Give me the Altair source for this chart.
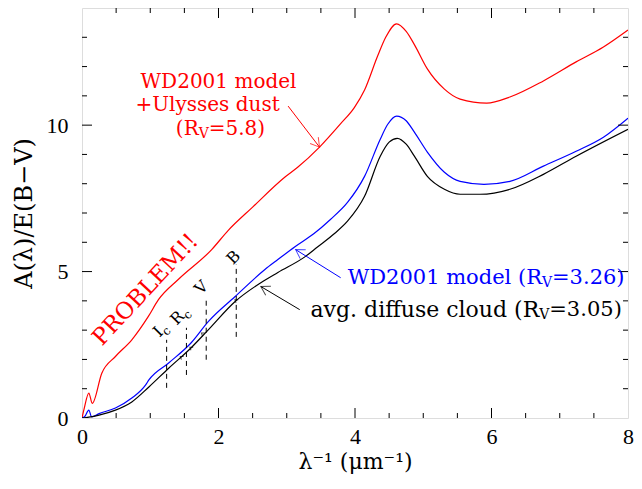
import altair as alt
import pandas as pd

# ---------------- data ----------------
red_x = [0.0, 0.03, 0.10, 0.15, 0.29, 0.49, 0.73, 0.97, 1.12, 1.41, 1.90, 2.14, 2.50, 2.97, 3.16, 3.48, 3.79, 3.99,
         4.14, 4.33, 4.45, 4.61, 4.75, 4.87, 5.06, 5.31, 5.54, 5.93, 6.27, 6.76, 7.24, 7.64, 8.0]
red_y = [0.0, 0.30, 0.85, 0.50, 1.53, 2.10, 2.67, 3.46, 4.04, 4.73, 5.75, 6.40, 7.20, 8.22, 8.56, 9.25, 10.05, 10.60,
         11.20, 12.35, 13.00, 13.46, 13.20, 12.75, 11.92, 11.23, 10.89, 10.75, 10.96, 11.51, 12.16, 12.67, 13.25]

blue_x = [0.0, 0.04, 0.10, 0.14, 0.25, 0.49, 0.73, 0.93, 0.98, 1.27, 1.60, 1.85, 2.24, 2.68, 2.87, 3.12, 3.40, 3.64,
          3.89, 4.14, 4.37, 4.48, 4.61, 4.75, 4.87, 5.06, 5.31, 5.54, 5.89, 6.27, 6.76, 7.24, 7.64, 8.0]
blue_y = [0.0, 0.05, 0.27, 0.04, 0.15, 0.34, 0.68, 1.12, 1.30, 1.88, 2.57, 3.29, 4.14, 5.07, 5.41, 5.85, 6.30, 6.78,
          7.36, 8.25, 9.52, 10.03, 10.31, 10.15, 9.76, 9.08, 8.39, 8.08, 7.98, 8.08, 8.60, 9.11, 9.59, 10.24]

black_x = [0.0, 0.10, 0.25, 0.49, 0.73, 0.98, 1.27, 1.60, 1.85, 2.24, 2.62, 2.87, 3.27, 3.45, 3.70, 3.89, 4.14, 4.37,
           4.50, 4.62, 4.75, 4.87, 5.06, 5.31, 5.54, 5.83, 6.27, 6.76, 7.24, 8.0]
black_y = [0.0, 0.03, 0.10, 0.27, 0.55, 1.06, 1.70, 2.40, 3.01, 3.97, 4.62, 4.97, 5.51, 5.84, 6.30, 6.72, 7.57, 8.94,
           9.42, 9.55, 9.35, 8.94, 8.25, 7.81, 7.64, 7.64, 7.81, 8.32, 8.94, 9.86]

series_names = ["red", "blue", "black"]
series_colors = ["#ff0000", "#0000ff", "#000000"]

# photometric band markers (dashed lines)
band_x = [1.24, 1.53, 1.82, 2.26]
band_y1 = [1.03, 1.47, 1.99, 2.77]
band_y2 = [2.67, 3.08, 4.14, 5.24]

# small arrow markers on the black curve
mark_x = [1.44, 1.58, 1.75, 2.24]
mark_y = [2.10, 2.42, 2.90, 4.04]

# axis ticks
x_labels = [0, 2, 4, 6, 8]
x_major_in = [2, 4, 6]
x_minor = [0.5, 1, 1.5, 2.5, 3, 3.5, 4.5, 5, 5.5, 6.5, 7, 7.5]
y_labels = [0, 5, 10]
y_major_in = [5, 10]
y_minor = [1, 2, 3, 4, 6, 7, 8, 9, 11, 12, 13]

# arrows: start (label end) -> tip
arrow_x1 = [3.02, 3.79, 3.19]
arrow_y1 = [10.65, 4.79, 3.70]
arrow_x2 = [3.48, 3.13, 2.62]
arrow_y2 = [9.25, 5.75, 4.49]
arrow_angle = [52, 212, 210]

W, H = 546, 410
FONT = "DejaVu Serif"
MAJOR, MINOR = 10, 5

xscale = alt.Scale(domain=[0, 8], nice=False, zero=False)
yscale = alt.Scale(domain=[0, 14], nice=False, zero=False)
cscale = alt.Scale(domain=series_names, range=series_colors)

def X(field="x", axis=None):
    return alt.X(f"{field}:Q", scale=xscale, axis=axis)

def Y(field="y", axis=None):
    return alt.Y(f"{field}:Q", scale=yscale, axis=axis)

# ---------------- axes (labels + titles only) ----------------
anchor = pd.DataFrame({"x": [0.0], "y": [0.0]})
main_axes = alt.Chart(anchor).mark_point(opacity=0).encode(
    x=X(axis=alt.Axis(orient="bottom", values=x_labels, tickSize=0, domain=False, grid=False,
                      labelFont="Liberation Serif", labelFontSize=22, labelColor="black", labelPadding=8,
                      labelFlush=False, format="d",
                      title="λ⁻¹ (μm⁻¹)", titleFont=FONT, titleFontSize=22, titleFontWeight="normal",
                      titleColor="black", titleBaseline="alphabetic", titleY=50)),
    y=Y(axis=alt.Axis(orient="left", values=y_labels, tickSize=0, domain=False, grid=False,
                      labelFont="Liberation Serif", labelFontSize=22, labelColor="black", labelPadding=14,
                      labelFlush=False, format="d",
                      title="A(λ)/E(B−V)", titleFont=FONT, titleFontSize=24, titleFontWeight="normal",
                      titleColor="black", titlePadding=10)),
)

# ---------------- curves ----------------
rows = []
for name, xs, ys in [("red", red_x, red_y), ("blue", blue_x, blue_y), ("black", black_x, black_y)]:
    for i, (a, b) in enumerate(zip(xs, ys)):
        rows.append({"series": name, "x": a, "y": b, "i": i})
curves = pd.DataFrame(rows)

lines = alt.Chart(curves).mark_line(strokeWidth=1.2, clip=True, interpolate="monotone").encode(
    x=X(), y=Y(),
    color=alt.Color("series:N", scale=cscale, legend=None),
    order="i:Q",
)

# ---------------- inward ticks on all four sides ----------------
def xticks(values, size, top):
    df = pd.DataFrame({"x": values})
    y0 = 0 if top else H
    y1 = size if top else H - size
    return alt.Chart(df).mark_rule(color="black", strokeWidth=1).encode(
        x=X(), y=alt.value(y0), y2=alt.value(y1))

def yticks(values, size, right):
    df = pd.DataFrame({"y": values})
    x0 = W if right else 0
    x1 = W - size if right else size
    return alt.Chart(df).mark_rule(color="black", strokeWidth=1).encode(
        y=Y(), x=alt.value(x0), x2=alt.value(x1))

tick_layers = [
    xticks(x_major_in, MAJOR, False), xticks(x_minor, MINOR, False),
    xticks(x_major_in, MAJOR, True), xticks(x_minor, MINOR, True),
    yticks(y_major_in, MAJOR, False), yticks(y_minor, MINOR, False),
    yticks(y_major_in, MAJOR, True), yticks(y_minor, MINOR, True),
]

# ---------------- band dashed lines ----------------
bands = pd.DataFrame({"x": band_x, "y": band_y1, "y2": band_y2})
band_rules = alt.Chart(bands).mark_rule(color="black", strokeDash=[5, 4], strokeWidth=1).encode(
    x=X(), y=Y(), y2="y2:Q")

marks_df = pd.DataFrame({"x": mark_x, "y": mark_y})
small_marks = alt.Chart(marks_df).mark_point(
    shape="M -1 -0.7 L 0 0 L -1 0.7", filled=False, color="black", strokeWidth=1, size=30, angle=215
).encode(x=X(), y=Y())

# ---------------- arrows ----------------
arrows = pd.DataFrame({"x": arrow_x1, "y": arrow_y1, "x2": arrow_x2, "y2": arrow_y2,
                       "ang": arrow_angle, "series": series_names})
arrow_lines = alt.Chart(arrows).mark_rule(strokeWidth=1).encode(
    x=X(), y=Y(), x2="x2:Q", y2="y2:Q",
    color=alt.Color("series:N", scale=cscale, legend=None))
arrow_heads = alt.Chart(arrows).mark_point(
    shape="M -1 -0.6 L 0 0 L -1 0.6", filled=False, strokeWidth=1, size=300
).encode(
    x=X("x2"), y=Y("y2"),
    angle=alt.Angle("ang:Q", scale=None),
    color=alt.Color("series:N", scale=cscale, legend=None))

# ---------------- texts ----------------
def text_layer(df, align, baseline="middle", dx=0, dy=0):
    return alt.Chart(pd.DataFrame(df)).mark_text(
        align=align, baseline=baseline, dx=dx, dy=dy, font=FONT
    ).encode(
        x=X(), y=Y(), text="t:N",
        color=alt.Color("c:N", scale=None),
        size=alt.Size("s:Q", scale=None),
        angle=alt.Angle("a:Q", scale=None),
    )

center_texts = text_layer({
    "x": [2.00, 1.84, 0.93, 1.75, 2.22],
    "y": [11.47, 10.70, 4.38, 4.45, 5.48],
    "t": ["WD2001 model", "+Ulysses dust", "PROBLEM!!", "V", "B"],
    "c": ["#ff0000", "#ff0000", "#ff0000", "black", "black"],
    "s": [20, 20, 23, 16, 16],
    "a": [0, 0, 313, 315, 315],
}, "center")

right_texts = text_layer({
    "x": [1.71, 6.74, 6.70, 1.15, 1.46],
    "y": [9.86, 4.79, 3.70, 3.01, 3.56],
    "t": ["(R", "WD2001 model (R", "avg. diffuse cloud (R", "I", "R"],
    "c": ["#ff0000", "#0000ff", "black", "black", "black"],
    "s": [20, 21, 22, 16, 16],
    "a": [0, 0, 0, 315, 315],
}, "right")

sub_texts = text_layer({
    "x": [1.71, 6.74, 6.70, 1.15, 1.46],
    "y": [9.86, 4.79, 3.70, 3.01, 3.56],
    "t": ["V", "V", "V", "c", "c"],
    "c": ["#ff0000", "#0000ff", "black", "black", "black"],
    "s": [14, 14, 14, 12, 12],
    "a": [0, 0, 0, 315, 315],
}, "left", dy=5)

rest_texts = text_layer({
    "x": [1.71, 6.74, 6.70],
    "y": [9.86, 4.79, 3.70],
    "t": ["=5.8)", "=3.26)", "=3.05)"],
    "c": ["#ff0000", "#0000ff", "black"],
    "s": [20, 21, 21],
    "a": [0, 0, 0],
}, "left", dx=10)

chart = alt.layer(
    main_axes, lines, *tick_layers,
    band_rules, small_marks, arrow_lines, arrow_heads,
    center_texts, right_texts, sub_texts, rest_texts,
).resolve_axis(x="independent", y="independent").properties(
    width=W, height=H,
    autosize=alt.AutoSizeParams(type="none"),
    padding={"left": 74, "top": 0, "right": 6, "bottom": 56},
).configure_view(stroke="black", strokeWidth=2).configure(background="white")

chart.save("out.html", embed_options={"renderer": "svg", "actions": False})
